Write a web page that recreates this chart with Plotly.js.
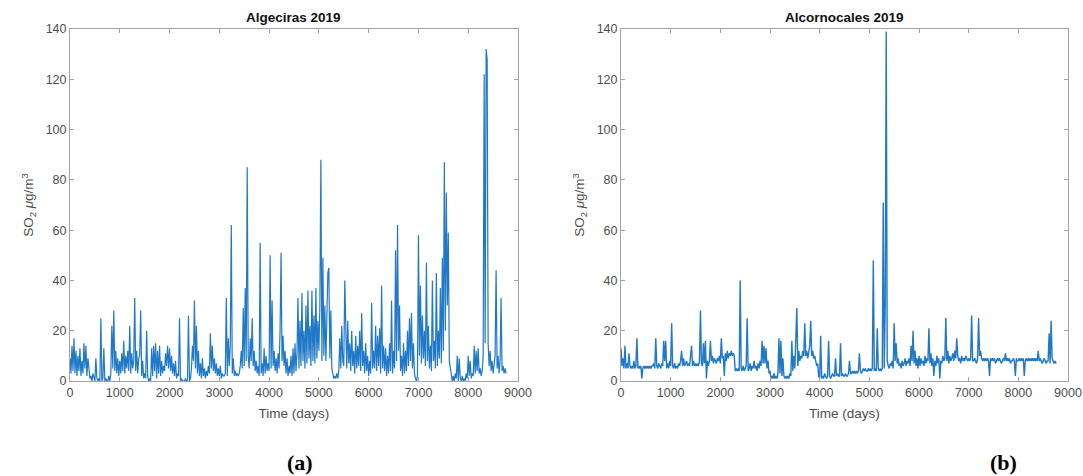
<!DOCTYPE html>
<html>
<head>
<meta charset="utf-8">
<script src="https://cdn.plot.ly/plotly-3.0.1.min.js"></script>
<style>html,body{margin:0;padding:0;background:#fff;}#chart{width:1083px;height:476px;}</style>
</head>
<body>
<div id="chart"></div>
<script>
// Sampling step of the hourly record (values read every 20 time units)
const STEP = 20;

const titles = ["Algeciras 2019", "Alcornocales 2019"];
const panelLabels = ["(a)", "(b)"];
const xTickVals = [0, 1000, 2000, 3000, 4000, 5000, 6000, 7000, 8000, 9000];
const yTickVals = [0, 20, 40, 60, 80, 100, 120, 140];

// Algeciras 2019, SO2 (µg/m3), one value every STEP units from 0
const algecirasSO2 = [
  9,3,14,4,17, 3,12,2,10,4, 13,2,8,3,15, 5,14,2,9,3, 1,2,0,3,1,
  0,9,1,0,1, 0,25,0,1,13, 0,1,0,0,2, 0,3,22,5,28, 4,12,3,9,2,
  8,3,11,4,16, 3,10,5,12,4, 22,3,11,5,8, 33,4,12,3,9, 10,28,2,8,1,
  3,1,20,2,0, 1,0,13,2,14, 4,15,1,12,3, 14,2,8,3,6, 4,11,6,14,5,
  13,4,10,3,7, 2,8,1,3,2, 25,0,1,0,0, 0,1,0,0,26, 0,1,5,14,8,
  32,5,22,3,12, 2,7,1,9,2, 5,1,4,2,6, 3,19,5,14,4, 9,3,7,2,5,
  2,6,1,3,2, 2,3,33,2,17, 6,14,62,3,9, 2,4,2,3,2, 3,6,12,5,29,
  6,37,8,85,10, 5,17,8,25,6, 12,4,8,3,6, 2,55,3,7,2, 13,3,10,4,7,
  4,50,5,32,6, 12,4,9,3,11, 5,20,51,8,18, 6,12,3,9,2, 6,3,10,2,13,
  3,15,4,11,33, 5,24,6,35,8, 20,5,30,7,36, 9,22,6,36,8, 26,7,37,9,24,
  12,30,88,8,49, 10,30,8,25,43, 45,9,28,5,3, 1,2,1,3,1, 4,17,5,22,8,
  6,40,18,5,24, 7,15,4,20,6, 12,3,18,5,14, 6,20,4,27,6, 12,3,15,4,10,
  2,8,3,31,5, 12,5,22,4,18, 6,21,3,38,5, 14,4,13,2,10, 3,15,4,32,3,
  12,5,52,8,62, 12,30,4,10,2, 15,3,12,4,20, 6,25,8,27,5, 15,3,1,0,2,
  58,10,38,7,26, 9,20,6,47,8, 22,5,14,4,40, 8,16,5,43,6, 20,9,37,7,49,
  12,87,20,75,30, 59,8,5,1,0, 2,0,3,1,10, 0,9,1,0,2, 0,1,0,3,1,
  10,2,8,1,3, 2,14,3,12,4, 13,3,5,2,4, 10,122,15,132,128, 15,6,12,4,8,
  3,6,10,44,5, 10,3,8,33,4, 6,3,5,3
];

// Alcornocales 2019, SO2 (µg/m3), one value every STEP units from 0
const alcornocalesSO2 = [
  13,6,9,5,14, 5,7,5,11,6, 5,6,5,8,5, 6,17,5,6,5, 6,1,5,6,5,
  6,5,6,5,6, 5,6,6,7,5, 17,6,5,7,6, 5,7,6,16,8, 16,5,7,5,8,
  6,23,6,5,7, 5,6,5,7,6, 8,12,6,9,6, 7,8,6,7,6, 9,14,6,8,6,
  7,6,7,6,8, 28,7,6,15,7, 16,1,8,6,8, 16,8,10,7,9, 8,7,9,8,10,
  7,17,9,10,2, 11,8,12,9,11, 10,12,10,11,10, 4,5,4,5,4, 40,5,4,6,4,
  5,6,25,4,5, 7,4,6,5,8, 5,6,4,7,5, 8,6,16,7,14, 7,13,5,8,3,
  4,1,2,1,3, 1,2,1,3,17, 3,16,2,9,2, 1,2,1,2,1, 3,2,16,4,10,
  5,14,29,6,12, 8,10,9,12,10, 23,10,12,9,11, 14,24,10,12,9, 10,8,6,7,2,
  1,18,1,2,1, 3,2,1,2,16, 2,1,2,3,2, 2,9,2,3,2, 2,15,2,3,2,
  2,3,2,2,3, 8,3,3,4,3, 4,3,4,3,4, 11,4,3,4,5, 4,5,4,4,5,
  4,5,4,5,48, 4,5,4,21,5, 4,5,4,5,71, 5,30,139,8,6, 5,7,6,8,5,
  23,8,15,7,9, 6,7,5,8,6, 7,9,6,8,7, 9,6,14,8,20, 7,12,6,9,5,
  10,6,9,7,8, 6,10,7,9,8, 21,7,11,6,9, 2,8,6,10,7, 9,1,8,7,10,
  8,9,25,8,12, 7,10,8,9,11, 8,12,9,17,10, 8,9,7,10,8, 9,8,10,9,8,
  9,8,9,26,8, 8,9,8,7,9, 25,10,12,9,8, 9,8,9,8,9, 8,2,9,8,9,
  8,9,7,8,9, 8,9,8,7,8, 9,8,11,8,9, 8,9,7,8,8, 9,8,2,9,8,
  8,9,8,9,8, 9,2,8,9,8, 9,8,9,8,9, 8,9,8,9,8, 12,8,9,8,7,
  8,9,8,7,8, 8,19,7,24,9, 8,7,8,7
];

const timeA = algecirasSO2.map((_, i) => i * STEP);
const timeB = alcornocalesSO2.map((_, i) => i * STEP);

const lineColor = '#1f78c8';
const FONT = 'Liberation Sans, Arial, Helvetica, sans-serif';

const traces = [
  {x: timeA, y: algecirasSO2, type: 'scatter', mode: 'lines', xaxis: 'x', yaxis: 'y',
   line: {color: lineColor, width: 1.2}, showlegend: false, hoverinfo: 'x+y'},
  {x: timeB, y: alcornocalesSO2, type: 'scatter', mode: 'lines', xaxis: 'x2', yaxis: 'y2',
   line: {color: lineColor, width: 1.4}, showlegend: false, hoverinfo: 'x+y'}
];

const W = 1083, H = 476;
const yDom = [1 - 381 / H, 1 - 29 / H];
const axisGray = '#a3a3a3';
const tickFont = {family: FONT, size: 12.5, color: '#4d4d4d'};
const titleFont = {family: FONT, size: 13.5, color: '#4d4d4d'};

function xAxis(dom, anchor) {
  return {
    domain: dom, anchor: anchor, range: [0, 9000], tickvals: xTickVals, ticktext: xTickVals.map(String),
    ticks: 'inside', ticklen: 4, tickcolor: axisGray, tickwidth: 1,
    showline: true, linecolor: axisGray, linewidth: 1, mirror: 'ticks',
    showgrid: false, zeroline: false, tickfont: tickFont,
    title: {text: 'Time (days)', font: titleFont, standoff: 9}, automargin: false
  };
}
function yAxis(anchor) {
  return {
    domain: yDom, anchor: anchor, range: [0, 140], tickvals: yTickVals, ticktext: yTickVals.map(String),
    ticks: 'inside', ticklen: 4, tickcolor: axisGray, tickwidth: 1,
    showline: true, linecolor: axisGray, linewidth: 1, mirror: 'ticks',
    showgrid: false, zeroline: false, tickfont: tickFont,
    title: {text: 'SO<sub>2</sub> <i>μ</i>g/m<sup>3</sup>', font: titleFont, standoff: 8}, automargin: false
  };
}

const xDomA = [70 / W, 518 / W];
const xDomB = [621 / W, 1068 / W];

const layout = {
  width: W, height: H,
  margin: {l: 0, r: 0, t: 0, b: 0},
  paper_bgcolor: '#ffffff', plot_bgcolor: '#ffffff',
  font: {family: FONT},
  xaxis: xAxis(xDomA, 'y'),
  yaxis: yAxis('x'),
  xaxis2: xAxis(xDomB, 'y2'),
  yaxis2: yAxis('x2'),
  annotations: [
    {text: '<b>' + titles[0] + '</b>', xref: 'paper', yref: 'paper', x: (xDomA[0] + xDomA[1]) / 2, y: 1 - 18 / H,
     showarrow: false, xanchor: 'center', yanchor: 'middle', font: {family: FONT, size: 13.5, color: '#111'}},
    {text: '<b>' + titles[1] + '</b>', xref: 'paper', yref: 'paper', x: (xDomB[0] + xDomB[1]) / 2, y: 1 - 18 / H,
     showarrow: false, xanchor: 'center', yanchor: 'middle', font: {family: FONT, size: 13.5, color: '#111'}},
    {text: '<b>' + panelLabels[0] + '</b>', xref: 'paper', yref: 'paper', x: 300 / W, y: 1 - 462 / H,
     showarrow: false, xanchor: 'center', yanchor: 'middle', font: {family: 'Liberation Serif, Times New Roman, serif', size: 22, color: '#000'}},
    {text: '<b>' + panelLabels[1] + '</b>', xref: 'paper', yref: 'paper', x: 1003 / W, y: 1 - 462 / H,
     showarrow: false, xanchor: 'center', yanchor: 'middle', font: {family: 'Liberation Serif, Times New Roman, serif', size: 22, color: '#000'}}
  ]
};

Plotly.newPlot('chart', traces, layout, {displayModeBar: false, staticPlot: true});
</script>
</body>
</html>
